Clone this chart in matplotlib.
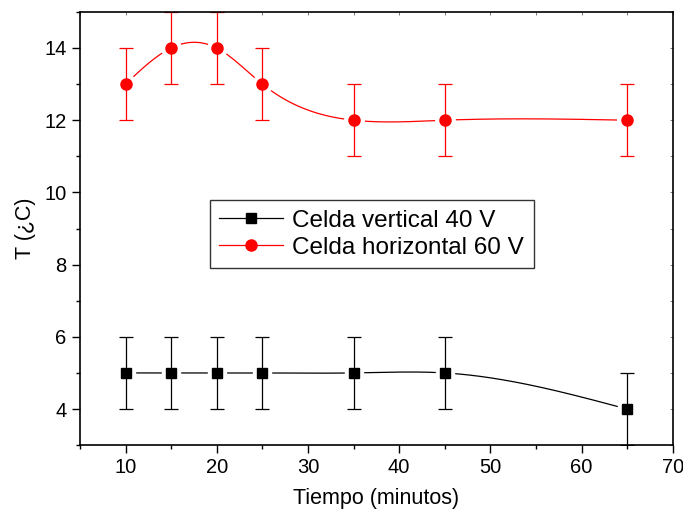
import numpy as np
import matplotlib
matplotlib.use("Agg")
import matplotlib.pyplot as plt
from matplotlib.ticker import MultipleLocator

plt.rcParams['font.family'] = ['Liberation Sans', 'DejaVu Sans']

tiempo = [10, 15, 20, 25, 35, 45, 65]
t_vertical = [5, 5, 5, 5, 5, 5, 4]
t_horizontal = [13, 14, 14, 13, 12, 12, 12]
err_vertical = [1, 1, 1, 1, 1, 1, 1]
err_horizontal = [1, 1, 1, 1, 1, 1, 1]


def spline(x, y, n=300):
    # natural cubic spline, like Origin's "spline" connect
    x = np.asarray(x, float); y = np.asarray(y, float)
    k = len(x); h = np.diff(x)
    A = np.zeros((k, k)); b = np.zeros(k)
    A[0, 0] = A[-1, -1] = 1
    for i in range(1, k - 1):
        A[i, i - 1] = h[i - 1]; A[i, i] = 2 * (h[i - 1] + h[i]); A[i, i + 1] = h[i]
        b[i] = 6 * ((y[i + 1] - y[i]) / h[i] - (y[i] - y[i - 1]) / h[i - 1])
    m = np.linalg.solve(A, b)
    xs = np.linspace(x[0], x[-1], n)
    idx = np.clip(np.searchsorted(x, xs) - 1, 0, k - 2)
    x0, x1 = x[idx], x[idx + 1]; hh = x1 - x0
    ys = (m[idx] * (x1 - xs) ** 3 / (6 * hh) + m[idx + 1] * (xs - x0) ** 3 / (6 * hh)
          + (y[idx] / hh - m[idx] * hh / 6) * (x1 - xs)
          + (y[idx + 1] / hh - m[idx + 1] * hh / 6) * (xs - x0))
    return xs, ys


fig = plt.figure(figsize=(6.83, 5.17), dpi=100)
ax = fig.add_axes([0.117, 0.139, 0.868, 0.838])

for yv, err, col, mk, lab in [(t_vertical, err_vertical, 'black', 's', 'Celda vertical 40 V'),
                              (t_horizontal, err_horizontal, 'red', 'o', 'Celda horizontal 60 V')]:
    ms = 8 if mk == 'o' else 7
    xs, ys = spline(tiempo, yv)
    ax.plot(xs, ys, color=col, lw=0.9)
    # white halo gives the gap between line and symbol
    ax.plot(tiempo, yv, ls='none', marker=mk, mfc='white', mec='white', ms=ms + 6)
    ax.errorbar(tiempo, yv, yerr=err, fmt='none', ecolor=col, elinewidth=0.9, capsize=5, capthick=0.9)
    ax.plot(tiempo, yv, ls='none', marker=mk, color=col, ms=ms)
    ax.plot([], [], color=col, lw=0.9, marker=mk, ms=ms, label=lab)

ax.set_xlim(5, 70)
ax.set_ylim(3, 15)
ax.xaxis.set_major_locator(MultipleLocator(10))
ax.xaxis.set_minor_locator(MultipleLocator(5))
ax.yaxis.set_major_locator(MultipleLocator(2))
ax.yaxis.set_minor_locator(MultipleLocator(1))
ax.tick_params(which='major', length=6, width=1, labelsize=14.5)
ax.tick_params(which='minor', length=3, width=1)
for s in ax.spines.values():
    s.set_linewidth(1.2)
# tiny inward ticks on the top and right frame
sec_x = ax.secondary_xaxis('top')
sec_x.xaxis.set_major_locator(MultipleLocator(5))
sec_x.tick_params(direction='in', length=2, width=0.6, labeltop=False, colors='0.4')
sec_x.spines['top'].set_visible(False)
sec_y = ax.secondary_yaxis('right')
sec_y.yaxis.set_major_locator(MultipleLocator(1))
sec_y.tick_params(direction='in', length=2, width=0.6, labelright=False, colors='0.4')
sec_y.spines['right'].set_visible(False)

ax.set_xlabel('Tiempo (minutos)', fontsize=15.5, labelpad=8)
ax.set_ylabel('T (¿C)', fontsize=15.5, labelpad=6)

leg = ax.legend(loc='upper left', bbox_to_anchor=(0.219, 0.566), fontsize=17.5, frameon=True,
                fancybox=False, edgecolor='black', handlelength=2.6, borderpad=0.4,
                labelspacing=0.2, handletextpad=0.4, borderaxespad=0)
leg.get_frame().set_linewidth(1)

fig.savefig('out.png', dpi=100)
